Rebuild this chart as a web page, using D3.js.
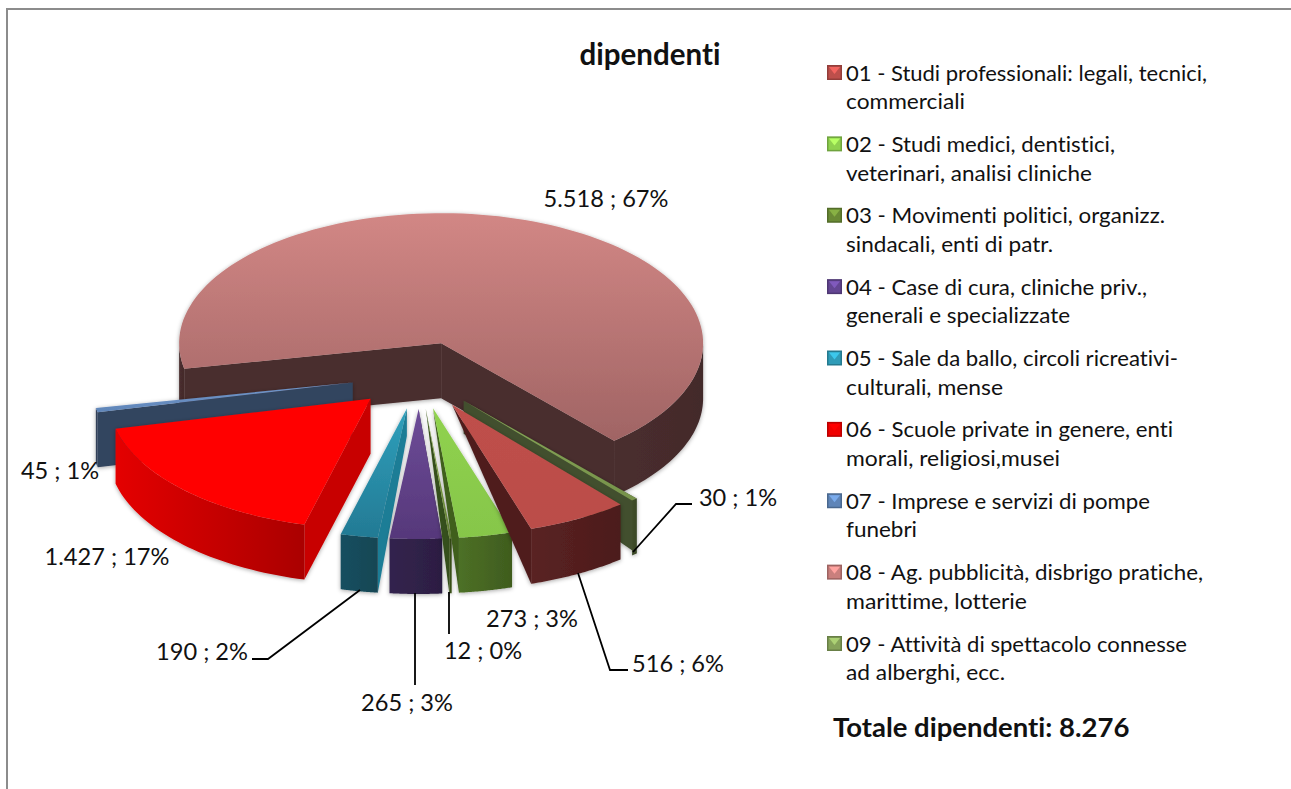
<!DOCTYPE html>
<html><head><meta charset="utf-8">
<script src="https://cdn.jsdelivr.net/npm/d3@7"></script>
<style>html,body{margin:0;padding:0;background:#fff}svg{display:block}text{font-family:Lato,sans-serif;fill:#111;font-variant-ligatures:none;font-feature-settings:"liga" 0}</style>
</head><body><svg id="c" width="1291" height="789"></svg>
<script>
const categories=[["01 - Studi professionali: legali, tecnici,","commerciali"],["02 - Studi medici, dentistici,","veterinari, analisi cliniche"],["03 - Movimenti politici, organizz.","sindacali, enti di patr."],["04 - Case di cura, cliniche priv.,","generali e specializzate"],["05 - Sale da ballo, circoli ricreativi-","culturali, mense"],["06 - Scuole private in genere, enti","morali, religiosi,musei"],["07 - Imprese e servizi di pompe","funebri"],["08 - Ag. pubblicità, disbrigo pratiche,","marittime, lotterie"],["09 - Attività di spettacolo connesse","ad alberghi, ecc."]];
const values=[516,273,12,265,190,1427,45,5518,30];
const valueLabels=["516 ; 6%","273 ; 3%","12 ; 0%","265 ; 3%","190 ; 2%","1.427 ; 17%","45 ; 1%","5.518 ; 67%","30 ; 1%"];
const labelPos=[[678,663],[532,618],[483,650],[407,702],[202,651],[107,556],[60,470],[606,198],[738,497]];
const leaders=[[[578,573],[610,670],[628,670]],null,[[449,592],[449,634]],[[415,593],[415,685]],[[360,590],[268,659],[252,659]],null,null,null,[[633,552],[676,504],[692,504]]];
const legendEnds=[[1207,965],[1115,1092],[1165,1053],[1147,1070],[1178,1003],[1173,1060],[1150,917],[1203,1027],[1187,1005]];
const topColors=[["#bf4f4b","#bb4d49"],["#90d24e","#86c64a"],["#7f9f45","#6f8f3c"],["#6d4c98","#56387a"],["#2fa0bc","#237a94"],["#ff0000","#ff0000"],["#7398cc","#5f85b8"],["#d28785","#a06464"],["#8aa85a","#76924a"]];
const frontColors=[["#5a2222","#4c1c1c"],["#4d7026","#3f5c1e"],["#3c561a","#334a16"],["#33234e","#2c1e42"],["#174f60","#144654"],["#e40000","#aa0000"],["#2c3b52","#3b4c68"],["#4a2e2e","#432a2b"],["#3f4d2a","#3a4726"]];
const sideColors=["#4f1e1e","#3f5f1c","#35501a","#2c1e42","#1f7d96","#c80000","#33445e","#4a2e2e","#434f2e"];
const sideDepth=[0,0,0,0,.5,1,1,1,.6];
const legendColors=["#bd4f4b","#8fd14f","#6a8a35","#644693","#2f9cb8","#f00000","#5f85b8","#c97f7d","#86a35a"];
const drawOrder=[7,6,8,5,4,3,2,1,0];
const firstAngle=140;

const svg=d3.select("#c"),defs=svg.append("defs");
const rad=d=>d*Math.PI/180;
const cx=419.3,cy=375.2,rx=262,ry=130,depth=55,explode=.26;
const xS=d3.scaleLinear().domain([-1,1]).range([-rx,rx]);
const yS=d3.scaleLinear().domain([-1,1]).range([ry,-ry]);
const arcs=d3.pie().sort(null).startAngle(rad(firstAngle)).endAngle(rad(firstAngle)+2*Math.PI)(values);
const line=d3.line();
const f=defs.append("filter").attr("id","sh").attr("x","-10%").attr("y","-10%").attr("width","120%").attr("height","120%");
f.append("feGaussianBlur").attr("in","SourceAlpha").attr("stdDeviation",2).attr("result","b");
f.append("feOffset").attr("in","b").attr("dx",0).attr("dy",1).attr("result","o");
f.append("feFlood").attr("flood-color","#000").attr("flood-opacity",.35);
f.append("feComposite").attr("in2","o").attr("operator","in").attr("result","s");
const m=f.append("feMerge");m.append("feMergeNode").attr("in","s");m.append("feMergeNode").attr("in","SourceGraphic");
function grad(id,c,x1,y1,x2,y2){const g=defs.append("linearGradient").attr("id",id).attr("x1",x1).attr("y1",y1).attr("x2",x2).attr("y2",y2);
 g.append("stop").attr("offset",0).attr("stop-color",c[0]);g.append("stop").attr("offset",1).attr("stop-color",c[1]);}
svg.append("path").attr("d",line([[7,789],[7,9],[1291,9]])).attr("fill","none").attr("stroke","#8c8c8c").attr("stroke-width",2);
const chart=svg.append("g");
drawOrder.forEach(i=>{
 const a=arcs[i],a0=a.startAngle,a1=a.endAngle,mid=(a0+a1)/2;
 const ox=cx+xS(Math.sin(mid)*explode),oy=cy+yS(Math.cos(mid)*explode);
 const P=(t,d=0)=>[ox+xS(Math.sin(t)),oy+yS(Math.cos(t))+d];
 const apex=[ox,oy];
 const g=chart.append("g").attr("filter","url(#sh)");
 grad("t"+i,topColors[i],0,0,0,1);grad("w"+i,frontColors[i],0,0,1,0);
 const faces=[];
 if(a1-a0>Math.PI) faces.push(a0,a1); else faces.push(mid<Math.PI?a1:a0);
 faces.forEach(t=>{
   const pts=[apex,P(t),P(t,depth)];
   if(sideDepth[i]>0) pts.push([ox,oy+depth*sideDepth[i]]);
   g.append("path").attr("d",line(pts)+"Z").attr("fill",sideColors[i]);
 });
 [[rad(90),rad(270)],[rad(450),rad(630)]].forEach(([lo,hi])=>{
   const s=Math.max(a0,lo),e=Math.min(a1,hi);
   if(e<=s) return;
   const ts=d3.range(0,41).map(k=>s+(e-s)*k/40);
   const pts=ts.map(t=>P(t)).concat(ts.slice().reverse().map(t=>P(t,depth)));
   g.append("path").attr("d",line(pts)+"Z").attr("fill",`url(#w${i})`);
 });
 const ts=d3.range(0,121).map(k=>a0+(a1-a0)*k/120);
 g.append("path").attr("d",line([apex,...ts.map(t=>P(t))])+"Z").attr("fill",`url(#t${i})`);
});
leaders.forEach(l=>{if(l)svg.append("path").attr("d",line(l)).attr("fill","none").attr("stroke","#000").attr("stroke-width",1.8);});
valueLabels.forEach((t,i)=>svg.append("text").attr("x",labelPos[i][0]).attr("y",labelPos[i][1]).attr("text-anchor","middle").attr("dominant-baseline","central").attr("font-size",23.6).text(t));
svg.append("text").attr("x",650).attr("y",53).attr("text-anchor","middle").attr("dominant-baseline","central").attr("font-size",29.5).attr("font-weight",700).text("dipendenti");
const legY=d3.scaleLinear().domain([0,8]).range([72,643]);
categories.forEach((c,i)=>{
 const y=legY(i),col=d3.color(legendColors[i]);
 const L=svg.append("g").attr("transform",`translate(827,${y-7})`);
 L.append("rect").attr("width",15).attr("height",15).attr("fill",col.darker(.7));
 L.append("rect").attr("x",1.5).attr("y",1.5).attr("width",12).attr("height",12).attr("fill",col);
 L.append("path").attr("d",line([[2,2],[13,2],[7.5,9]])+"Z").attr("fill",col.brighter(.7));
 c.forEach((t,j)=>svg.append("text").attr("x",846).attr("y",y+j*28.7).attr("dominant-baseline","central").attr("font-size",22).attr("textLength",legendEnds[i][j]-846).attr("lengthAdjust","spacingAndGlyphs").text(t));
});
svg.append("text").attr("x",833).attr("y",726).attr("dominant-baseline","central").attr("font-size",27.5).attr("font-weight",700).text("Totale dipendenti: 8.276");
</script></body></html>
